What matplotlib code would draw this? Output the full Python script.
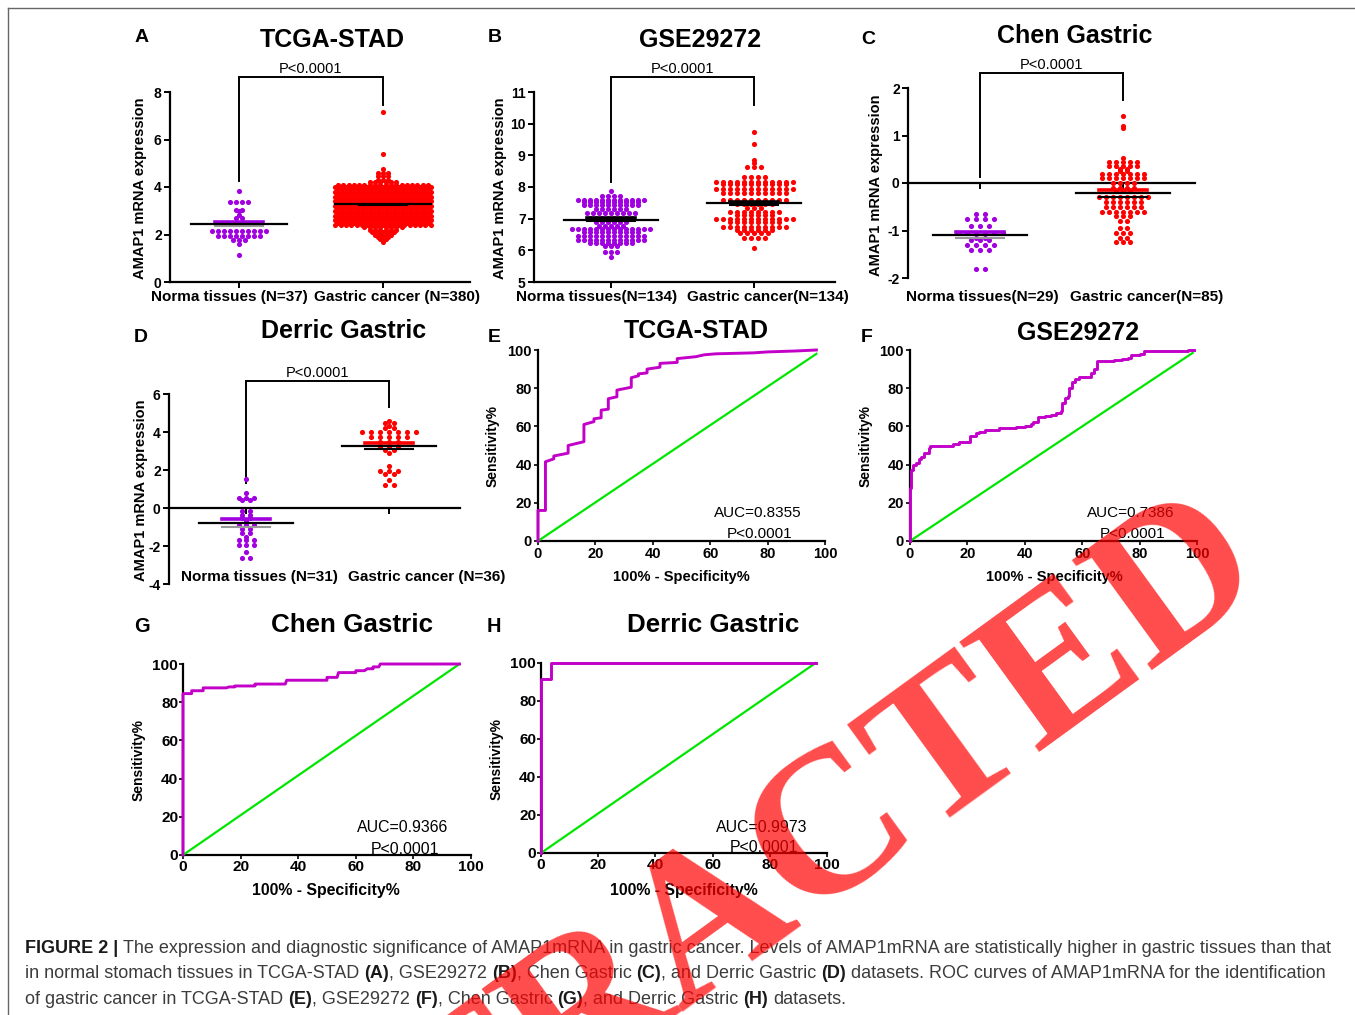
import numpy as np
import matplotlib
matplotlib.use('Agg')
import matplotlib.pyplot as plt
from matplotlib import font_manager
from matplotlib.lines import Line2D

W, H, DPI = 1355, 1015, 100

# ---------------- data ----------------
# scatter rows: value levels and number of points at each level
a_norm_vals = [1.13, 1.62, 1.75, 1.95, 2.15, 2.45, 2.70, 2.84, 2.97, 3.05, 3.38, 3.85]
a_norm_cnts = [1, 1, 3, 8, 10, 3, 2, 1, 1, 2, 4, 1]
a_canc_vals = [1.70, 1.80, 1.90, 2.00, 2.10, 2.20, 2.30, 2.40, 2.50, 2.60, 2.70, 2.80,
               2.90, 3.00, 3.10, 3.20, 3.30, 3.40, 3.50, 3.60, 3.70, 3.80, 3.90, 4.00,
               4.10, 4.20, 4.30, 4.45, 4.60, 4.75, 5.40, 7.15]
a_canc_cnts = [1, 2, 3, 4, 5, 6, 8, 19, 18, 19, 18, 19, 18, 19, 18, 19, 18, 19, 18, 19,
               18, 19, 18, 19, 18, 6, 3, 3, 3, 1, 1, 1]

b_norm_vals = [5.80, 5.95, 6.13, 6.22, 6.32, 6.45, 6.57, 6.67, 6.77, 6.90, 7.02, 7.17,
               7.30, 7.43, 7.52, 7.60, 7.72, 7.87]
b_norm_cnts = [1, 3, 3, 8, 12, 12, 10, 14, 5, 6, 8, 9, 6, 10, 10, 12, 4, 1]
b_canc_vals = [6.08, 6.40, 6.55, 6.65, 6.75, 6.90, 6.98, 7.10, 7.20, 7.33, 7.45, 7.60,
               7.80, 7.95, 8.08, 8.17, 8.33, 8.62, 8.75, 8.85, 9.35, 9.75]
b_canc_cnts = [1, 4, 5, 6, 10, 8, 12, 6, 8, 3, 6, 10, 10, 12, 10, 12, 4, 3, 1, 1, 1, 1]

c_norm_vals = [-1.80, -1.40, -1.30, -1.20, -1.15, -1.05, -0.90, -0.75, -0.65]
c_norm_cnts = [2, 3, 4, 3, 2, 6, 3, 4, 2]
c_canc_vals = [-1.25, -1.15, -1.05, -0.95, -0.80, -0.70, -0.60, -0.50, -0.40, -0.30,
               -0.17, -0.10, 0.00, 0.10, 0.20, 0.25, 0.30, 0.35, 0.45, 0.52, 1.15, 1.20, 1.42]
c_canc_cnts = [3, 2, 3, 2, 2, 3, 7, 6, 6, 8, 3, 4, 4, 7, 7, 2, 2, 5, 5, 1, 1, 1, 1]

d_norm_vals = [-2.65, -2.30, -1.95, -1.70, -1.55, -1.30, -1.10, -0.90, -0.70, -0.50,
               -0.35, -0.15, 0.40, 0.55, 0.80, 1.55]
d_norm_cnts = [2, 1, 3, 3, 1, 2, 2, 3, 1, 2, 2, 2, 2, 3, 1, 1]
d_canc_vals = [1.20, 1.50, 1.80, 1.95, 2.20, 2.90, 3.05, 3.20, 3.45, 3.75, 4.00, 4.20,
               4.30, 4.45, 4.58]
d_canc_cnts = [2, 1, 2, 3, 1, 1, 2, 3, 3, 5, 7, 2, 1, 2, 1]

# mean and SEM of each group (normal, cancer)
a_means, a_sems = [2.45, 3.28], [0.08, 0.03]
b_means, b_sems = [6.97, 7.48], [0.04, 0.05]
c_means, c_sems = [-1.10, -0.22], [0.065, 0.065]
d_means, d_sems = [-0.77, 3.26], [0.21, 0.17]

# significance bracket: top, left leg end, right leg end
a_bracket = [8.63, 4.25, 7.45]
b_bracket = [11.47, 8.15, 10.6]
c_bracket = [2.315, 0.13, 1.75]
d_bracket = [6.70, 1.30, 5.30]
p_text = 'P<0.0001'

a_cats = ['Norma tissues (N=37)', 'Gastric cancer (N=380)']
b_cats = ['Norma tissues(N=134)', 'Gastric cancer(N=134)']
c_cats = ['Norma tissues(N=29)', 'Gastric cancer(N=85)']
d_cats = ['Norma tissues (N=31)', 'Gastric cancer (N=36)']

titles = ['TCGA-STAD', 'GSE29272', 'Chen Gastric', 'Derric Gastric',
          'TCGA-STAD', 'GSE29272', 'Chen Gastric', 'Derric Gastric']
letters = ['A', 'B', 'C', 'D', 'E', 'F', 'G', 'H']

# ROC curves (100% - specificity, sensitivity)
e_roc_x = [0, 0, 2.6, 2.6, 5.5, 5.5, 10.5, 10.5, 16, 16, 19.5, 19.5, 22, 22, 24.5, 24.5,
           27.5, 27.5, 32.5, 32.5, 35, 35, 38, 38, 42.5, 42.5, 48.5, 48.5, 55, 58, 62,
           75, 80, 90, 97]
e_roc_y = [0, 16, 16, 41.5, 43, 44.5, 46, 50, 52, 61, 62.5, 64, 64.5, 68.5, 69, 74.5,
           75.5, 79, 80.5, 85.5, 86.5, 87.5, 88, 90, 91, 93, 93.5, 95.5, 96.5, 97.5, 98,
           98.5, 99, 99.5, 100]
f_roc_x = [0, 0, 0.3, 0.5, 1, 2, 3, 4, 5, 6.5, 7, 8, 13, 15, 17, 20, 21, 23, 24, 26,
           30, 31, 36, 37, 40, 42, 43, 44.5, 47, 49, 51, 52.5, 53, 54, 55, 55.5, 56.5,
           57.5, 59, 62, 63, 64, 65, 69, 71, 74, 76, 77, 80, 81.5, 97, 99]
f_roc_y = [0, 28, 35, 37, 40, 41, 43, 44, 46, 48.5, 49.5, 50, 50, 51, 52, 52, 55, 56.5,
           57, 58, 58, 59, 59, 59.5, 60, 61, 62.5, 65, 65.5, 66, 67, 68, 72, 75, 76, 80,
           83, 85, 86, 86, 88, 90, 94, 94.5, 95, 95.5, 96, 97.5, 98, 99.5, 100, 100]
g_roc_x = [0, 0, 3, 3, 7, 7, 15, 16, 18, 18, 25, 25, 35.5, 36, 50, 50, 53.5, 54, 60, 60,
           63, 64, 66, 66, 68, 68.5, 96]
g_roc_y = [0, 84.5, 84.5, 86, 86, 87.5, 87.5, 88, 88, 88.5, 88.5, 89.5, 89.5, 91.5, 91.5,
           93, 93, 95.5, 95.5, 96.5, 96.5, 97.5, 97.5, 98.5, 98.5, 100, 100]
h_roc_x = [0, 0, 3.5, 3.5, 96]
h_roc_y = [0, 91.5, 91.5, 100, 100]
diag_x = [[0, 97], [0, 98.5], [0, 96], [0, 96]]
diag_y = [[0, 98], [0, 98.5], [0, 100], [0, 100]]
auc_texts = ['AUC=0.8355', 'AUC=0.7386', 'AUC=0.9366', 'AUC=0.9973']
roc_ticks = [0, 20, 40, 60, 80, 100]

caption_lines = [
    [('FIGURE 2 | ', True),
     ('The expression and diagnostic significance of AMAP1mRNA in gastric cancer. Levels of '
      'AMAP1mRNA are statistically higher in gastric tissues than that', False)],
    [('in normal stomach tissues in TCGA-STAD ', False), ('(A)', True), (', GSE29272 ', False),
     ('(B)', True), (', Chen Gastric ', False), ('(C)', True), (', and Derric Gastric ', False),
     ('(D)', True), (' datasets. ROC curves of AMAP1mRNA for the identification', False)],
    [('of gastric cancer in TCGA-STAD ', False), ('(E)', True), (', GSE29272 ', False),
     ('(F)', True), (', Chen Gastric ', False), ('(G)', True), (', and Derric Gastric ', False),
     ('(H)', True), (' datasets.', False)],
]
watermark = 'RETRACTED'

# ---------------- style ----------------
names = {f.name for f in font_manager.fontManager.ttflist}
SANS = 'Liberation Sans' if 'Liberation Sans' in names else 'DejaVu Sans'
NARROW = 'Liberation Sans Narrow' if 'Liberation Sans Narrow' in names else None
SERIF = 'Liberation Serif' if 'Liberation Serif' in names else 'DejaVu Serif'
plt.rcParams['font.family'] = [SANS, 'DejaVu Sans']


def narrow(size, weight='normal'):
    if NARROW:
        return dict(family=[NARROW, SANS], fontsize=size, fontweight=weight)
    return dict(family=[SANS], fontsize=size * 0.85, fontweight=weight)


PURPLE = '#A000E0'
RED = '#FF0000'
MAGENTA = '#C200C8'
GREEN = '#00E600'

fig = plt.figure(figsize=(W / DPI, H / DPI), dpi=DPI)


def add_ax(l, t, r, b):
    return fig.add_axes([l / W, 1 - b / H, (r - l) / W, (b - t) / H])


def ftext(x, y, s, **kw):
    return fig.text(x / W, 1 - y / H, s, **kw)


def row_layout(vals, cnts, center, dx):
    xs, ys = [], []
    for v, n in zip(vals, cnts):
        offs = (np.arange(n) - (n - 1) / 2.0) * dx
        xs.extend(center + offs)
        ys.extend([v] * n)
    return np.array(xs), np.array(ys)


def style_axes(ax, lw=1.6):
    ax.spines['top'].set_visible(False)
    ax.spines['right'].set_visible(False)
    ax.spines['left'].set_linewidth(lw)
    ax.spines['bottom'].set_linewidth(lw)
    ax.patch.set_alpha(0)


def scatter_panel(box, cats_px, ylim, yticks, groups, means, sems, bracket, zero_axis,
                  cat_names, cat_xy, ylabel_xy, cap_cols, low_cols):
    l, t, r, b = box
    ax = add_ax(l, t, r, b)
    c1, c2 = cats_px
    u = float(c2 - c1)
    ax.set_xlim(1 - (c1 - l) / u, 2 + (r - c2) / u)
    ax.set_ylim(*ylim)
    for i, (vals, cnts, color, dxp) in enumerate(groups):
        xs, ys = row_layout(vals, cnts, i + 1, dxp / u)
        ax.plot(xs, ys, 'o', ms=3.7, mfc=color, mec='none', clip_on=False, zorder=3)
    for i, (m, s) in enumerate(zip(means, sems)):
        ax.plot([i + 1 - 0.33, i + 1 + 0.33], [m, m], color='black', lw=1.6, zorder=6)
        ax.plot([i + 1 - 0.17, i + 1 + 0.17], [m + s, m + s], color=cap_cols[i], lw=2.6, zorder=5)
        ax.plot([i + 1 - 0.17, i + 1 + 0.17], [m - s, m - s], color=low_cols[i], lw=1.5, zorder=5)
    top, lb, rb = bracket
    ax.plot([1, 1, 2, 2], [lb, top, top, rb], color='black', lw=1.4, clip_on=False,
            solid_joinstyle='miter')
    ax.annotate(p_text, xy=(1.5, top), xytext=(0, 0.5), textcoords='offset points',
                ha='center', va='bottom', fontsize=10.5, annotation_clip=False)
    style_axes(ax)
    if zero_axis:
        ax.spines['bottom'].set_position(('data', 0))
    ax.set_xticks([1, 2])
    ax.set_xticklabels([])
    ax.set_yticks(yticks)
    ax.set_yticklabels([str(v) for v in yticks], fontweight='bold', fontsize=10)
    ax.tick_params(axis='both', direction='out', length=4, width=1.4, pad=2)
    for name, (x, y) in zip(cat_names, cat_xy):
        ftext(x, y, name, ha='center', va='center', fontsize=11, fontweight='bold')
    ftext(ylabel_xy[0], ylabel_xy[1], 'AMAP1 mRNA expression', rotation=90, ha='center',
          va='center', fontsize=10.5, fontweight='bold')
    return ax


def roc_panel(box, rx, ry, dxs, dys, auc, auc_xy, xlabel_xy, ylabel_xy, cond, steps=False):
    l, t, r, b = box
    ax = add_ax(l, t, r, b)
    ax.set_xlim(0, 100)
    ax.set_ylim(0, 100)
    ax.plot(dxs, dys, color=GREEN, lw=1.6, clip_on=False, zorder=3)
    ax.plot(rx, ry, color=MAGENTA, lw=2.1, clip_on=False, zorder=4,
            drawstyle='steps-post' if steps else 'default')
    style_axes(ax)
    ax.set_xticks(roc_ticks)
    ax.set_yticks(roc_ticks)
    if cond:
        tkw = narrow(13, 'bold')
        ax.set_xticklabels([str(v) for v in roc_ticks], **tkw)
        ax.set_yticklabels([str(v) for v in roc_ticks], **tkw)
        ax.tick_params(axis='both', direction='out', length=3, width=1.2, pad=0.5)
        xkw = narrow(13.5, 'bold')
        akw = narrow(13.5)
    else:
        ax.set_xticklabels([str(v) for v in roc_ticks], fontweight='bold', fontsize=10.5)
        ax.set_yticklabels([str(v) for v in roc_ticks], fontweight='bold', fontsize=10.5)
        ax.tick_params(axis='both', direction='out', length=3, width=1.2, pad=1.5)
        xkw = dict(fontsize=10.5, fontweight='bold')
        akw = dict(fontsize=11)
    ftext(xlabel_xy[0], xlabel_xy[1], '100% - Specificity%', ha='center', va='center', **xkw)
    ftext(ylabel_xy[0], ylabel_xy[1], 'Sensitivity%', rotation=90, ha='center', va='center',
          fontsize=10, fontweight='bold')
    ftext(auc_xy[0], auc_xy[1], auc, ha='center', va='center', **akw)
    ftext(auc_xy[0] + 2, auc_xy[1] + 21, p_text, ha='center', va='center', **akw)
    return ax


# ---------------- panels A-D ----------------
scatter_panel((170, 92, 470, 282), (239, 383), (0, 8), [0, 2, 4, 6, 8],
              [(a_norm_vals, a_norm_cnts, PURPLE, 6.0), (a_canc_vals, a_canc_cnts, RED, 5.3)],
              a_means, a_sems, a_bracket, False, a_cats, [(229, 297), (397, 297)], (140, 188),
              [PURPLE, RED], ['#999999', 'black'])
scatter_panel((534, 92, 835, 282), (611, 754), (5, 11), [5, 6, 7, 8, 9, 10, 11],
              [(b_norm_vals, b_norm_cnts, PURPLE, 6.0), (b_canc_vals, b_canc_cnts, RED, 7.0)],
              b_means, b_sems, b_bracket, False, b_cats, [(597, 297), (768, 297)], (500, 188),
              ['black', 'black'], ['black', 'black'])
scatter_panel((908, 88, 1195, 278), (980, 1123), (-2, 2), [-2, -1, 0, 1, 2],
              [(c_norm_vals, c_norm_cnts, PURPLE, 9.0), (c_canc_vals, c_canc_cnts, RED, 7.0)],
              c_means, c_sems, c_bracket, True, c_cats, [(982, 297), (1147, 297)], (876, 185),
              [PURPLE, RED], ['#999999', 'black'])
scatter_panel((169, 394, 460, 584), (246, 389), (-4, 6), [-4, -2, 0, 2, 4, 6],
              [(d_norm_vals, d_norm_cnts, PURPLE, 7.5), (d_canc_vals, d_canc_cnts, RED, 9.0)],
              d_means, d_sems, d_bracket, True, d_cats, [(259, 577), (427, 577)], (141, 490),
              [PURPLE, RED], ['#999999', 'black'])

# ---------------- panels E-H ----------------
roc_panel((538, 350, 825, 541), e_roc_x, e_roc_y, diag_x[0], diag_y[0], auc_texts[0],
          (758, 513), (681, 577), (493, 446), False)
roc_panel((910, 350, 1197, 541), f_roc_x, f_roc_y, diag_x[1], diag_y[1], auc_texts[1],
          (1131, 513), (1054, 577), (866, 446), False, steps=True)
roc_panel((183, 664, 471, 855), g_roc_x, g_roc_y, diag_x[2], diag_y[2], auc_texts[2],
          (403, 828), (326, 891), (139, 760), True)
roc_panel((541, 663, 827, 853), h_roc_x, h_roc_y, diag_x[3], diag_y[3], auc_texts[3],
          (762, 827), (684, 890), (497, 759), True)

# ---------------- titles & letters ----------------
title_xy = [(332, 40), (700, 40), (1075, 36), (344, 331), (696, 331), (1078, 333),
            (352, 625), (713, 625)]
letter_xy = [(142, 38), (495, 38), (868, 39), (141, 338), (494, 338), (867, 338),
             (142, 626), (494, 626)]
for i, (s, (x, y)) in enumerate(zip(titles, title_xy)):
    if i >= 6:
        ftext(x, y, s, ha='center', va='center', **narrow(22, 'bold'))
    else:
        ftext(x, y, s, ha='center', va='center', fontsize=18, fontweight='bold')
for i, (s, (x, y)) in enumerate(zip(letters, letter_xy)):
    if i >= 6:
        ftext(x, y, s, ha='center', va='center', **narrow(17, 'bold'))
    else:
        ftext(x, y, s, ha='center', va='center', fontsize=14, fontweight='bold')

# ---------------- frame lines ----------------
fig.add_artist(Line2D([8 / W, 1], [1 - 8 / H, 1 - 8 / H], color='#666666', lw=1.0))
fig.add_artist(Line2D([8 / W, 8 / W], [1 - 8 / H, 0], color='#666666', lw=1.0))

# ---------------- caption ----------------
renderer = fig.canvas.get_renderer()


def cap_kw(bold, size):
    if NARROW:
        return dict(family=[NARROW, SANS], fontsize=size, fontweight='bold' if bold else 'normal',
                    color='#1a1a1a' if bold else '#3c3c3c')
    return dict(family=[SANS], fontsize=size, fontweight='bold' if bold else 'normal',
                color='#1a1a1a' if bold else '#3c3c3c')


def advance(s, bold, size):
    t1 = fig.text(0, 0, '|' + s + '|', **cap_kw(bold, size))
    t2 = fig.text(0, 0, '||', **cap_kw(bold, size))
    w = t1.get_window_extent(renderer).width - t2.get_window_extent(renderer).width
    t1.remove()
    t2.remove()
    return w


base = 12.0
w1 = sum(advance(s, b, base) for s, b in caption_lines[0])
cap_size = base * 1310.0 / w1
baselines = [953, 978, 1004]
for line, yb in zip(caption_lines, baselines):
    x = 25.0
    for s, b in line:
        stripped = s.strip()
        lead = len(s) - len(s.lstrip())
        x0 = x + (advance(s[:lead], b, cap_size) if lead else 0)
        ftext(x0, yb, stripped, ha='left', va='baseline', **cap_kw(b, cap_size))
        x += advance(s, b, cap_size)

# ---------------- watermark ----------------
ftext(712, 925, watermark, ha='center', va='center', rotation=36, rotation_mode='anchor',
      family=[SERIF], fontweight='bold', fontsize=150, color=(1, 0, 0, 0.7), zorder=100)

fig.savefig('out.png', dpi=DPI)
